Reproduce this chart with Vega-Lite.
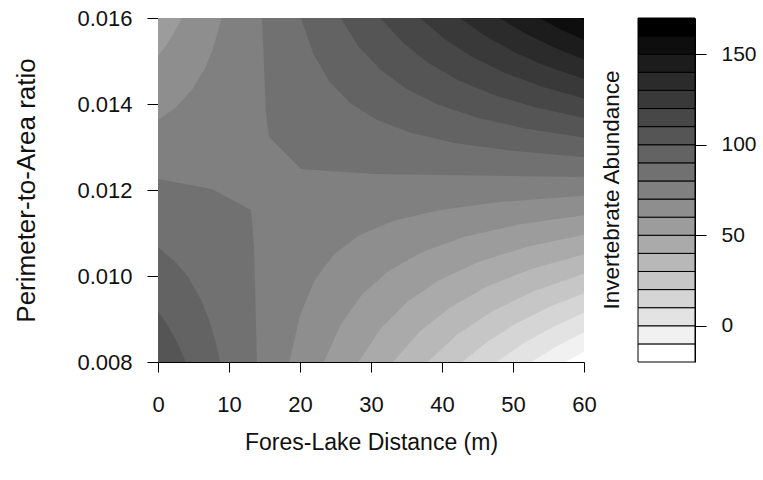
{
  "$schema": "https://vega.github.io/schema/vega-lite/v6.json",
  "padding": {"left": 13, "top": 7, "right": 5, "bottom": 5},
  "background": "#ffffff",
  "bounds": "flush",
  "spacing": 54,
  "config": {
    "font": "Liberation Sans",
    "view": {"stroke": null},
    "axis": {"grid": false, "domainColor": "#000000", "tickColor": "#000000", "labelColor": "#111111", "titleColor": "#111111", "titleFontWeight": "normal", "labelFlush": false, "labelOverlap": false, "labelBound": false, "zindex": 1, "domainWidth": 1, "tickWidth": 1}
  },
  "datasets": {
    "top": [
      {"g": "bg", "z": 70, "x": 0, "y": 0.008},
      {"g": "bg", "z": 70, "x": 60, "y": 0.008},
      {"g": "tr80", "z": 80, "x": 14.65, "y": 0.016},
      {"g": "tr80", "z": 80, "x": 15.21, "y": 0.013767},
      {"g": "tr80", "z": 80, "x": 15.63, "y": 0.013233},
      {"g": "tr80", "z": 80, "x": 20.14, "y": 0.012488},
      {"g": "tr80", "z": 80, "x": 30.42, "y": 0.012372},
      {"g": "tr80", "z": 80, "x": 60, "y": 0.012302},
      {"g": "tr90", "z": 90, "x": 20.13, "y": 0.016},
      {"g": "tr90", "z": 90, "x": 21.88, "y": 0.015168},
      {"g": "tr90", "z": 90, "x": 24.13, "y": 0.014522},
      {"g": "tr90", "z": 90, "x": 27.03, "y": 0.014021},
      {"g": "tr90", "z": 90, "x": 30.77, "y": 0.013631},
      {"g": "tr90", "z": 90, "x": 35.57, "y": 0.013329},
      {"g": "tr90", "z": 90, "x": 41.76, "y": 0.013094},
      {"g": "tr90", "z": 90, "x": 49.74, "y": 0.012912},
      {"g": "tr90", "z": 90, "x": 60, "y": 0.01277},
      {"g": "tr100", "z": 100, "x": 25.72, "y": 0.016},
      {"g": "tr100", "z": 100, "x": 28.25, "y": 0.015338},
      {"g": "tr100", "z": 100, "x": 31.32, "y": 0.014794},
      {"g": "tr100", "z": 100, "x": 35.05, "y": 0.014346},
      {"g": "tr100", "z": 100, "x": 39.59, "y": 0.013978},
      {"g": "tr100", "z": 100, "x": 45.12, "y": 0.013676},
      {"g": "tr100", "z": 100, "x": 51.84, "y": 0.013427},
      {"g": "tr100", "z": 100, "x": 60, "y": 0.013223},
      {"g": "tr110", "z": 110, "x": 31.31, "y": 0.016},
      {"g": "tr110", "z": 110, "x": 34.38, "y": 0.015439},
      {"g": "tr110", "z": 110, "x": 37.98, "y": 0.014963},
      {"g": "tr110", "z": 110, "x": 42.22, "y": 0.014559},
      {"g": "tr110", "z": 110, "x": 47.22, "y": 0.014215},
      {"g": "tr110", "z": 110, "x": 53.09, "y": 0.013923},
      {"g": "tr110", "z": 110, "x": 60, "y": 0.013676},
      {"g": "tr120", "z": 120, "x": 36.91, "y": 0.016},
      {"g": "tr120", "z": 120, "x": 40.33, "y": 0.015515},
      {"g": "tr120", "z": 120, "x": 44.27, "y": 0.015093},
      {"g": "tr120", "z": 120, "x": 48.8, "y": 0.014726},
      {"g": "tr120", "z": 120, "x": 54.01, "y": 0.014407},
      {"g": "tr120", "z": 120, "x": 60, "y": 0.014129},
      {"g": "tr130", "z": 130, "x": 42.5, "y": 0.016},
      {"g": "tr130", "z": 130, "x": 46.12, "y": 0.015579},
      {"g": "tr130", "z": 130, "x": 50.21, "y": 0.015206},
      {"g": "tr130", "z": 130, "x": 54.81, "y": 0.014875},
      {"g": "tr130", "z": 130, "x": 60, "y": 0.014582},
      {"g": "tr140", "z": 140, "x": 48.09, "y": 0.016},
      {"g": "tr140", "z": 140, "x": 51.67, "y": 0.015646},
      {"g": "tr140", "z": 140, "x": 55.63, "y": 0.015325},
      {"g": "tr140", "z": 140, "x": 60, "y": 0.015035},
      {"g": "tr150", "z": 150, "x": 53.68, "y": 0.016},
      {"g": "tr150", "z": 150, "x": 56.72, "y": 0.015735},
      {"g": "tr150", "z": 150, "x": 60, "y": 0.015488},
      {"g": "tr160", "z": 160, "x": 59.27, "y": 0.016},
      {"g": "tr160", "z": 160, "x": 60, "y": 0.015941},
      {"g": "tl60", "z": 60, "x": 0, "y": 0.01363},
      {"g": "tl60", "z": 60, "x": 2.4, "y": 0.013909},
      {"g": "tl60", "z": 60, "x": 4.8, "y": 0.014332},
      {"g": "tl60", "z": 60, "x": 6.6, "y": 0.014828},
      {"g": "tl60", "z": 60, "x": 7.8, "y": 0.015318},
      {"g": "tl60", "z": 60, "x": 8.95, "y": 0.016},
      {"g": "tl50", "z": 50, "x": 0, "y": 0.015111},
      {"g": "tl50", "z": 50, "x": 1.2, "y": 0.015376},
      {"g": "tl50", "z": 50, "x": 2.1, "y": 0.015609},
      {"g": "tl50", "z": 50, "x": 2.82, "y": 0.015823},
      {"g": "tl50", "z": 50, "x": 3.35, "y": 0.016}
    ],
    "bot": [
      {"g": "bl80", "z": 80, "x": 0, "y": 0.012255},
      {"g": "bl80", "z": 80, "x": 7.61, "y": 0.012023},
      {"g": "bl80", "z": 80, "x": 13.1, "y": 0.011535},
      {"g": "bl80", "z": 80, "x": 13.52, "y": 0.010721},
      {"g": "bl80", "z": 80, "x": 13.94, "y": 0.008},
      {"g": "bl90", "z": 90, "x": 0, "y": 0.010667},
      {"g": "bl90", "z": 90, "x": 2.4, "y": 0.010336},
      {"g": "bl90", "z": 90, "x": 4.2, "y": 0.009981},
      {"g": "bl90", "z": 90, "x": 6.0, "y": 0.009467},
      {"g": "bl90", "z": 90, "x": 7.2, "y": 0.008975},
      {"g": "bl90", "z": 90, "x": 8.1, "y": 0.008476},
      {"g": "bl90", "z": 90, "x": 8.76, "y": 0.008},
      {"g": "bl100", "z": 100, "x": 0, "y": 0.009186},
      {"g": "bl100", "z": 100, "x": 1.2, "y": 0.008898},
      {"g": "bl100", "z": 100, "x": 2.4, "y": 0.00855},
      {"g": "bl100", "z": 100, "x": 3.3, "y": 0.008237},
      {"g": "bl100", "z": 100, "x": 3.9, "y": 0.008},
      {"g": "br60", "z": 60, "x": 18.5, "y": 0.008},
      {"g": "br60", "z": 60, "x": 20.0, "y": 0.009083},
      {"g": "br60", "z": 60, "x": 22.02, "y": 0.009892},
      {"g": "br60", "z": 60, "x": 24.72, "y": 0.010496},
      {"g": "br60", "z": 60, "x": 28.34, "y": 0.010947},
      {"g": "br60", "z": 60, "x": 33.19, "y": 0.011284},
      {"g": "br60", "z": 60, "x": 39.67, "y": 0.011536},
      {"g": "br60", "z": 60, "x": 48.36, "y": 0.011724},
      {"g": "br60", "z": 60, "x": 60, "y": 0.011864},
      {"g": "br50", "z": 50, "x": 23.36, "y": 0.008},
      {"g": "br50", "z": 50, "x": 25.75, "y": 0.008872},
      {"g": "br50", "z": 50, "x": 28.74, "y": 0.009567},
      {"g": "br50", "z": 50, "x": 32.51, "y": 0.01012},
      {"g": "br50", "z": 50, "x": 37.23, "y": 0.01056},
      {"g": "br50", "z": 50, "x": 43.17, "y": 0.01091},
      {"g": "br50", "z": 50, "x": 50.63, "y": 0.011189},
      {"g": "br50", "z": 50, "x": 60, "y": 0.011411},
      {"g": "br40", "z": 40, "x": 28.23, "y": 0.008},
      {"g": "br40", "z": 40, "x": 31.3, "y": 0.008762},
      {"g": "br40", "z": 40, "x": 35.03, "y": 0.009388},
      {"g": "br40", "z": 40, "x": 39.58, "y": 0.009902},
      {"g": "br40", "z": 40, "x": 45.11, "y": 0.010325},
      {"g": "br40", "z": 40, "x": 51.83, "y": 0.010673},
      {"g": "br40", "z": 40, "x": 60, "y": 0.010958},
      {"g": "br30", "z": 30, "x": 33.09, "y": 0.008},
      {"g": "br30", "z": 30, "x": 36.76, "y": 0.008691},
      {"g": "br30", "z": 30, "x": 41.13, "y": 0.00927},
      {"g": "br30", "z": 30, "x": 46.35, "y": 0.009756},
      {"g": "br30", "z": 30, "x": 52.57, "y": 0.010163},
      {"g": "br30", "z": 30, "x": 60, "y": 0.010505},
      {"g": "br20", "z": 20, "x": 37.96, "y": 0.008},
      {"g": "br20", "z": 20, "x": 42.2, "y": 0.008645},
      {"g": "br20", "z": 20, "x": 47.2, "y": 0.009192},
      {"g": "br20", "z": 20, "x": 53.08, "y": 0.009658},
      {"g": "br20", "z": 20, "x": 60, "y": 0.010052},
      {"g": "br10", "z": 10, "x": 42.83, "y": 0.008},
      {"g": "br10", "z": 10, "x": 46.4, "y": 0.008473},
      {"g": "br10", "z": 10, "x": 50.42, "y": 0.008893},
      {"g": "br10", "z": 10, "x": 54.93, "y": 0.009267},
      {"g": "br10", "z": 10, "x": 60, "y": 0.009599},
      {"g": "br0", "z": 0, "x": 47.69, "y": 0.008},
      {"g": "br0", "z": 0, "x": 51.38, "y": 0.008422},
      {"g": "br0", "z": 0, "x": 55.46, "y": 0.008803},
      {"g": "br0", "z": 0, "x": 60, "y": 0.009146},
      {"g": "brm10", "z": -10, "x": 52.56, "y": 0.008},
      {"g": "brm10", "z": -10, "x": 56.11, "y": 0.008362},
      {"g": "brm10", "z": -10, "x": 60, "y": 0.008693},
      {"g": "brm20", "z": -20, "x": 57.42, "y": 0.008},
      {"g": "brm20", "z": -20, "x": 60, "y": 0.00824}
    ],
    "leg": [
      {"z": -20, "hi": -10}, {"z": -10, "hi": 0}, {"z": 0, "hi": 10}, {"z": 10, "hi": 20},
      {"z": 20, "hi": 30}, {"z": 30, "hi": 40}, {"z": 40, "hi": 50}, {"z": 50, "hi": 60},
      {"z": 60, "hi": 70}, {"z": 70, "hi": 80}, {"z": 80, "hi": 90}, {"z": 90, "hi": 100},
      {"z": 100, "hi": 110}, {"z": 110, "hi": 120}, {"z": 120, "hi": 130}, {"z": 130, "hi": 140},
      {"z": 140, "hi": 150}, {"z": 150, "hi": 160}, {"z": 160, "hi": 170}
    ]
  },
  "hconcat": [
    {
      "width": 426,
      "height": 344,
      "layer": [
        {
          "data": {"name": "top"},
          "mark": {"type": "area", "interpolate": "linear"},
          "encoding": {
            "x": {"field": "x", "type": "quantitative", "scale": {"domain": [0, 60], "nice": false, "zero": false},
                  "axis": {"values": [0, 10, 20, 30, 40, 50, 60], "format": "d", "tickSize": 10, "labelPadding": 22, "labelFontSize": 22, "title": "Fores-Lake Distance (m)", "titleFontSize": 23, "titlePadding": 16}},
            "y": {"field": "y", "type": "quantitative", "stack": null, "scale": {"domain": [0.008, 0.016], "nice": false, "zero": false},
                  "axis": {"values": [0.008, 0.01, 0.012, 0.014, 0.016], "format": ".3f", "tickSize": 11, "labelPadding": 15, "labelFontSize": 22, "title": "Perimeter-to-Area ratio", "titleFontSize": 26, "titlePadding": 37}},
            "y2": {"datum": 0.016},
            "color": {"field": "z", "type": "quantitative", "scale": {"domain": [-20, 160], "range": ["#ffffff", "#000000"], "interpolate": "rgb"}, "legend": null},
            "detail": {"field": "g", "type": "nominal"}
          }
        },
        {
          "data": {"name": "bot"},
          "mark": {"type": "area", "interpolate": "linear"},
          "encoding": {
            "x": {"field": "x", "type": "quantitative"},
            "y": {"field": "y", "type": "quantitative", "stack": null},
            "y2": {"datum": 0.008},
            "color": {"field": "z", "type": "quantitative", "legend": null},
            "detail": {"field": "g", "type": "nominal"}
          }
        },
        {
          "mark": {"type": "rect", "filled": false, "stroke": "#000000", "strokeWidth": 1},
          "encoding": {
            "x": {"datum": 0, "type": "quantitative"},
            "x2": {"datum": 60},
            "y": {"datum": 0.008, "type": "quantitative"},
            "y2": {"datum": 0.016}
          }
        }
      ]
    },
    {
      "width": 57,
      "height": 344,
      "title": {"text": "Invertebrate Abundance", "orient": "left", "fontSize": 22.5, "fontWeight": "normal", "color": "#111111", "offset": 14},
      "data": {"name": "leg"},
      "mark": {"type": "rect", "stroke": "#000000", "strokeWidth": 1},
      "encoding": {
        "y": {"field": "z", "type": "quantitative", "scale": {"domain": [-20, 170], "nice": false, "zero": false},
              "axis": {"orient": "right", "values": [0, 50, 100, 150], "tickSize": 11, "labelPadding": 15, "labelFontSize": 21, "title": null}},
        "y2": {"field": "hi"},
        "color": {"field": "z", "type": "quantitative", "legend": null}
      }
    }
  ]
}
